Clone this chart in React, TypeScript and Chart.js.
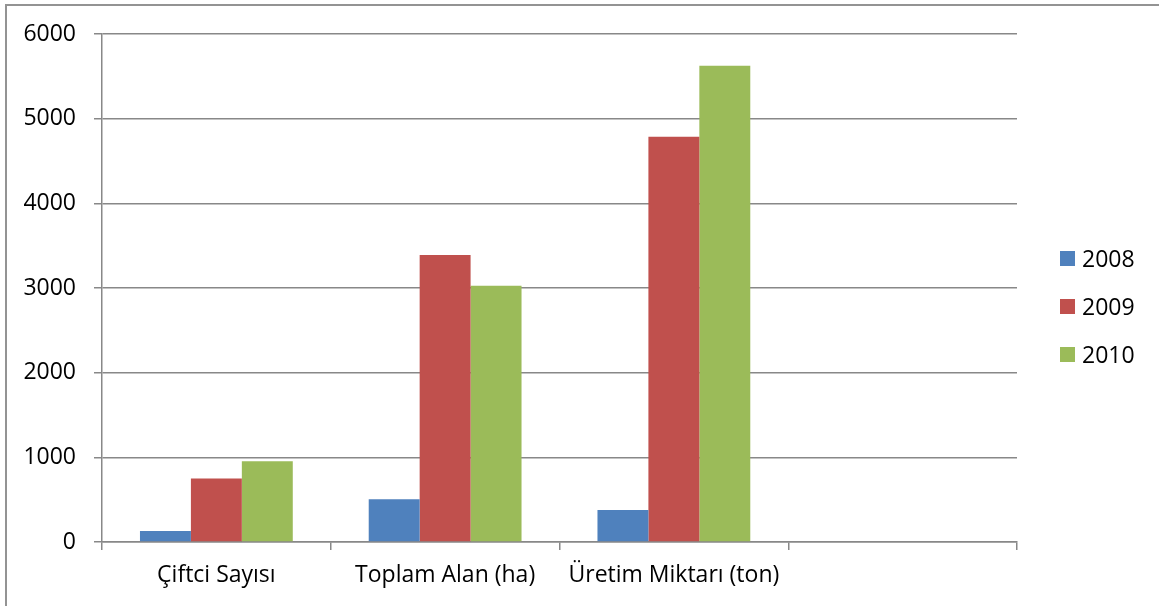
import React, { useEffect, useRef } from "react";
import { Chart, registerables } from "chart.js";

Chart.register(...registerables);

// Categories along the x axis (the last slot is left empty)
const categories = ["Çiftci Sayısı", "Toplam Alan (ha)", "Üretim Miktarı (ton)", ""];
// Series names and their values per category
const seriesNames = ["2008", "2009", "2010"];
const values2008 = [130, 505, 378, null];
const values2009 = [750, 3390, 4787, null];
const values2010 = [955, 3026, 5626, null];
const seriesColors = ["#4F81BD", "#C0504D", "#9BBB59"];
// Value axis range
const yMin = 0;
const yMax = 6000;
const yStep = 1000;

const FONT = "'Open Sans'";
const AXIS_GRAY = "#888888";

const sideLegend = {
  id: "sideLegend",
  afterDraw(chart: any) {
    const ctx = chart.ctx;
    ctx.save();
    ctx.font = `23px ${FONT}`;
    ctx.textBaseline = "middle";
    ctx.textAlign = "left";
    chart.data.datasets.forEach((ds: any, i: number) => {
      const cy = 259 + i * 48;
      ctx.fillStyle = ds.backgroundColor;
      ctx.fillRect(1060, cy - 8, 15, 15);
      ctx.fillStyle = "#000";
      ctx.fillText(ds.label, 1082, cy + 1);
    });
    ctx.restore();
  },
};

export default function App() {
  const ref = useRef<HTMLCanvasElement | null>(null);

  useEffect(() => {
    if (!ref.current) return;
    const seriesValues = [values2008, values2009, values2010];
    const chart = new Chart(ref.current, {
      type: "bar",
      data: {
        labels: categories,
        datasets: seriesNames.map((name, i) => ({
          label: name,
          data: seriesValues[i],
          backgroundColor: seriesColors[i],
          borderWidth: 0,
          barPercentage: 1,
          categoryPercentage: 0.668,
        })),
      },
      options: {
        responsive: false,
        animation: false,
        layout: { padding: { top: 34, right: 142, bottom: 0, left: 0 } },
        plugins: {
          legend: { display: false },
          tooltip: { enabled: false },
        },
        scales: {
          x: {
            offset: true,
            afterFit: (s: any) => {
              s.height = 64;
            },
            grid: {
              offset: true,
              drawOnChartArea: false,
              drawTicks: true,
              tickLength: 8,
              color: AXIS_GRAY,
              lineWidth: 1.5,
            },
            border: { display: true, color: AXIS_GRAY, width: 1.5 },
            ticks: {
              color: "#000",
              font: { family: FONT, size: 23 },
              padding: 12,
              maxRotation: 0,
              autoSkip: false,
            },
          },
          y: {
            min: yMin,
            max: yMax,
            afterFit: (s: any) => {
              s.width = 102;
            },
            grid: {
              drawTicks: true,
              tickLength: 8,
              color: AXIS_GRAY,
              lineWidth: 1.5,
            },
            border: { display: true, color: AXIS_GRAY, width: 1.5 },
            ticks: {
              stepSize: yStep,
              color: "#000",
              font: { family: FONT, size: 23 },
              padding: 18,
              callback: (v: any) => String(v),
            },
          },
        },
      },
      plugins: [sideLegend],
    });
    return () => chart.destroy();
  }, []);

  return (
    <div
      style={{
        position: "fixed",
        left: 0,
        top: 0,
        width: 1159,
        height: 606,
        overflow: "hidden",
        background: "#fff",
      }}
    >
      <div
        style={{
          position: "absolute",
          left: 5,
          top: 4,
          width: 1300,
          height: 800,
          border: "2px solid #939393",
        }}
      />
      <canvas
        ref={ref}
        width={1159}
        height={606}
        style={{ position: "absolute", left: 0, top: 0 }}
      />
    </div>
  );
}
